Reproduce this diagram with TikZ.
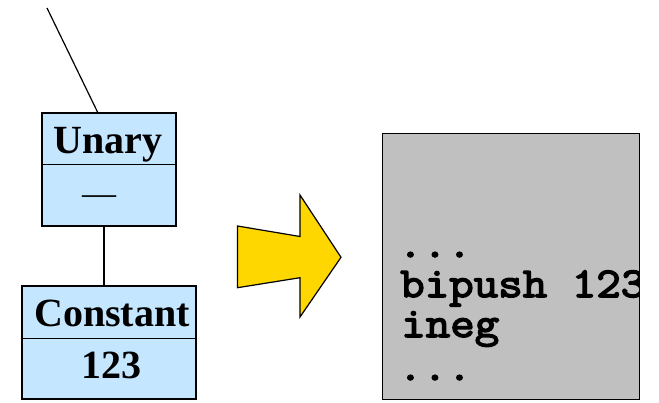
\documentclass[tikz,border=0pt]{standalone}
\usepackage{fontspec}
\setmainfont{Liberation Serif}
\newfontfamily\codefont[FakeStretch=1.12,FakeBold=3.5]{Latin Modern Mono}
\definecolor{nodeblue}{RGB}{196,230,255}
\definecolor{arrowgold}{RGB}{255,215,0}
\definecolor{codegray}{RGB}{192,192,192}
\begin{document}
\begin{tikzpicture}[x=1pt,y=-1pt,
  treebox/.style={draw=black,line width=1.3pt,fill=nodeblue,rectangle,inner sep=0pt},
  label/.style={font=\fontsize{40}{40}\selectfont\bfseries,anchor=base,inner sep=0pt},
  code/.style={font=\codefont\fontsize{42.5}{42.5}\selectfont,anchor=base west,inner sep=0pt},
  wire/.style={line width=1.2pt}]
\useasboundingbox (0,0) rectangle (659,402);

% tree nodes
\node[treebox,minimum width=134pt,minimum height=113pt] (unary) at (109,169.5) {};
\node[treebox,minimum width=174pt,minimum height=113pt] (const) at (109,342.5) {};
\draw[line width=0.8pt] (unary.west |- 0,164) -- (unary.east |- 0,164);
\draw[line width=0.8pt] (const.west |- 0,338) -- (const.east |- 0,338);
\node[label] (unaryname) at (108,153.5) {Unary};
\node[label,font=\fontsize{34}{34}\selectfont] (unaryop) at (99,204) {—};
\node[label] (constname) at (112,326.5) {Constant};
\node[label] (constval) at (111.5,378) {123};

% connectors
\coordinate (parent) at (47,8);
\coordinate (utop) at (98,113);
\draw[wire] (parent) -- (utop);
\coordinate (ubot) at (104,226);
\coordinate (ctop) at (104,286);
\draw[wire] (ubot) -- (ctop);

% transformation arrow
\draw[fill=arrowgold,line width=1.2pt,line join=miter]
  (237.5,226) -- (300,236.5) -- (300,195) -- (341,257.3) -- (300,317)
  -- (300,277.7) -- (237.5,287.7) -- cycle;

% generated bytecode
\fill[codegray] (382.5,133.5) rectangle (639.5,399.5);
\begin{scope}
  \clip (382.5,133.5) rectangle (639.5,399.5);
  \node[code] (l1) at (398,257) {...};
  \node[code] (l2) at (400,297) {bipush 123};
  \node[code] (l3) at (401,337) {ineg};
  \node[code] (l4) at (398,380) {...};
\end{scope}
\draw[line width=1.2pt] (382.5,133.5) rectangle (639.5,399.5);
\end{tikzpicture}
\end{document}
